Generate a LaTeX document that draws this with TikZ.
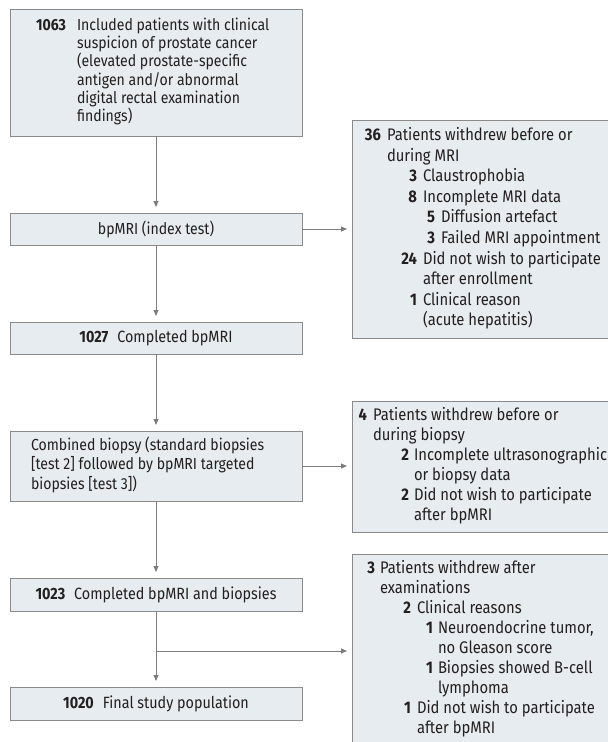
\documentclass[tikz,border=0pt]{standalone}
\usepackage{fontspec}
\setmainfont{Fira Sans}[FakeStretch=0.88]
\usetikzlibrary{arrows.meta}
\definecolor{boxfill}{RGB}{230,236,240}
\definecolor{boxline}{RGB}{138,138,138}
\definecolor{arrowc}{RGB}{125,125,125}
\definecolor{txt}{RGB}{35,31,32}
\newcommand\Ln[4]{\makebox[#1pt][r]{\textbf{#3}}\hspace*{\dimexpr #2pt-#1pt\relax}#4}
\newcommand\Ct[2]{\hspace*{#1pt}#2}
\newcommand\TB[2]{\makebox[#1pt][l]{\begin{tabular}{@{}l@{}}#2\end{tabular}}}
\begin{document}
\begin{tikzpicture}[x=1pt,y=-1pt,
  box/.style={draw=boxline, fill=boxfill, line width=0.9pt, inner sep=0pt, outer sep=0pt, text=txt},
  mainbox/.style={box, minimum width=292pt},
  lf/.style={font=\fontsize{16}{17.8}\selectfont},
  sf/.style={font=\fontsize{16.3}{18}\selectfont},
  rf/.style={font=\fontsize{16.8}{20.6}\selectfont},
  arr/.style={draw=arrowc, line width=0.9pt, -{Triangle[length=6pt,width=5pt]}, shorten >=6pt}]
\useasboundingbox (0,0) rectangle (608,742);
\clip (0,0) rectangle (608,742);
% main column
\node[mainbox, lf, minimum height=127pt] (b1) at (156,72.5) {\TB{250}{%
\Ln{35}{46}{1063}{Included patients with clinical}\\
\Ct{46}{suspicion of prostate cancer}\\
\Ct{46}{(elevated prostate-specific}\\
\Ct{46}{antigen and/or abnormal}\\
\Ct{46}{digital rectal examination}\\
\Ct{46}{findings)}}};
\node[mainbox, lf, minimum height=32pt] (b2) at (156,229) {bpMRI (index test)};
\node[mainbox, sf, minimum height=32pt] (b3) at (156,338) {\textbf{1027}\hspace{9pt}Completed bpMRI};
\node[mainbox, font=\fontsize{16}{19}\selectfont, minimum height=70pt] (b4) at (156,466) {\TB{250}{%
Combined biopsy (standard biopsies\\\relax
[test 2] followed by bpMRI targeted\\
biopsies [test 3])}};
\node[mainbox, sf, minimum height=33pt] (b5) at (156,594.5) {\textbf{1023}\hspace{9pt}Completed bpMRI and biopsies};
\node[mainbox, sf, minimum height=33pt] (b6) at (156,703.5) {\textbf{1020}\hspace{9pt}Final study population};
% right column
\node[box, rf, anchor=north west, minimum width=270pt, minimum height=218pt] (r1) at (352,120) {\TB{248}{%
\Ln{18}{24}{36}{Patients withdrew before or}\\
\Ct{24}{during MRI}\\
\Ln{54}{60}{3}{Claustrophobia}\\
\Ln{54}{60}{8}{Incomplete MRI data}\\
\Ln{72}{78}{5}{Diffusion artefact}\\
\Ln{72}{78}{3}{Failed MRI appointment}\\
\Ln{54}{60}{24}{Did not wish to participate}\\
\Ct{60}{after enrollment}\\
\Ln{54}{60}{1}{Clinical reason}\\
\Ct{60}{(acute hepatitis)}}};
\node[box, font=\fontsize{16.8}{20}\selectfont, anchor=north west, minimum width=270pt, minimum height=131pt] (r2) at (352,401) {\TB{258}{%
\Ln{9}{15}{4}{Patients withdrew before or}\\
\Ct{15}{during biopsy}\\
\Ln{51}{56}{2}{Incomplete ultrasonographic}\\
\Ct{56}{or biopsy data}\\
\Ln{51}{56}{2}{Did not wish to participate}\\
\Ct{56}{after bpMRI}}};
\node[box, font=\fontsize{16.8}{20}\selectfont, anchor=north west, minimum width=270pt, minimum height=190pt] (r3) at (352,554) {\TB{240}{%
\Ln{8}{13}{3}{Patients withdrew after}\\
\Ct{13}{examinations}\\
\Ln{44}{50}{2}{Clinical reasons}\\
\Ln{66}{71}{1}{Neuroendocrine tumor,}\\
\Ct{71}{no Gleason score}\\
\Ln{66}{71}{1}{Biopsies showed B-cell}\\
\Ct{71}{lymphoma}\\
\Ln{44}{50}{1}{Did not wish to participate}\\
\Ct{50}{after bpMRI}}};
% connectors
\draw[arr] (b1.south) -- (b2.north);
\draw[arr] (b2.south) -- (b3.north);
\draw[arr] (b3.south) -- (b4.north);
\draw[arr] (b4.south) -- (b5.north);
\draw[arr] (b5.south) -- (b6.north);
\draw[arr, shorten >=5pt] (b2.east) -- (b2.east -| r1.west);
\draw[arr, shorten >=5pt] (b4.east) -- (b4.east -| r2.west);
\coordinate (br) at (156,651);
\draw[arr, shorten >=5pt] (br) -- (br -| r3.west);
\end{tikzpicture}
\end{document}
